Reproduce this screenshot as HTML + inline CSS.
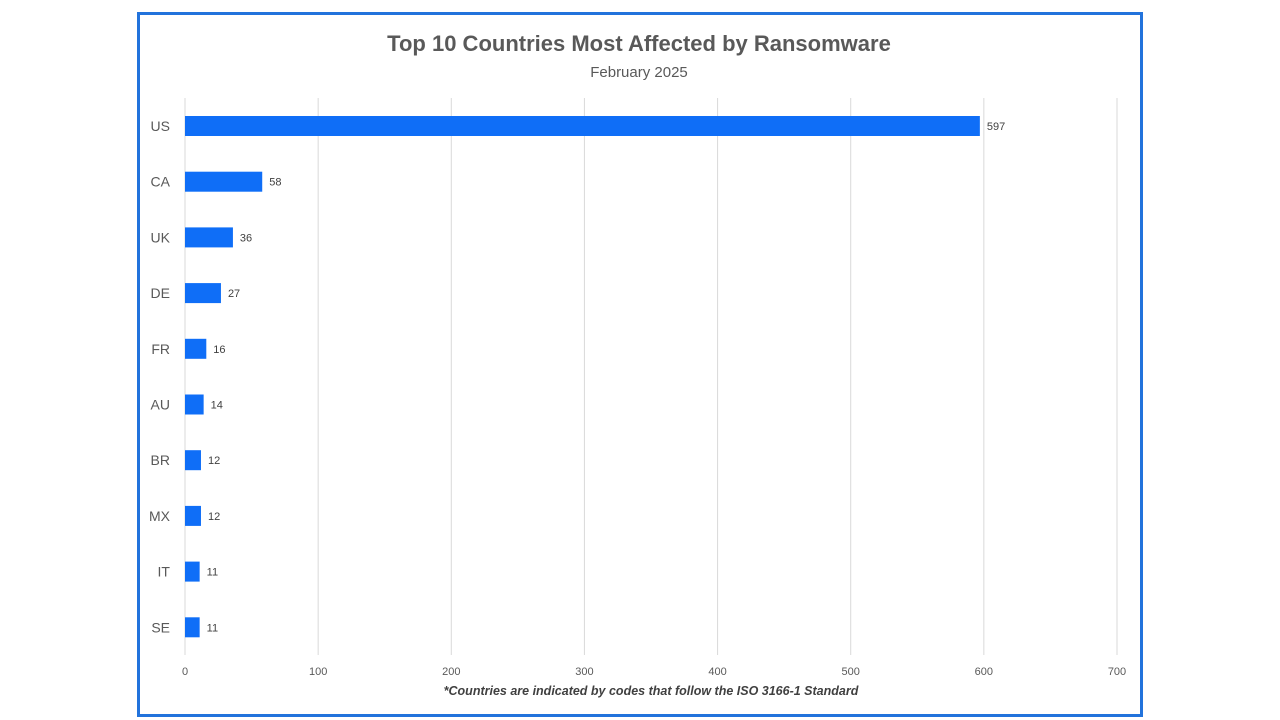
<!DOCTYPE html>
<html><head><meta charset="utf-8"><style>
body{margin:0;width:1280px;height:720px;background:#fff;overflow:hidden;font-family:"Liberation Sans",sans-serif}
#frame{position:absolute;left:137px;top:12px;width:1000px;height:699px;border:3px solid #2273dc}
</style></head><body>
<div id="frame"></div>
<svg id="chart" width="1280" height="720" style="position:absolute;left:0;top:0">
<text x="639" y="51" text-anchor="middle" font-size="22" font-weight="bold" fill="#595959">Top 10 Countries Most Affected by Ransomware</text>
<text x="639" y="77" text-anchor="middle" font-size="15" fill="#595959">February 2025</text>
<text x="651" y="695" text-anchor="middle" font-size="12.5" font-weight="bold" font-style="italic" fill="#404040">*Countries are indicated by codes that follow the ISO 3166-1 Standard</text>
<g id="grid"></g><g id="bars"></g>
</svg>
<script>
const categories=["US","CA","UK","DE","FR","AU","BR","MX","IT","SE"];
const values=[597,58,36,27,16,14,12,12,11,11];
const ticks=[0,100,200,300,400,500,600,700];
const ns="http://www.w3.org/2000/svg";
const x0=185,x1=1117,maxV=700,yTop=98,yBot=655,rowTop=126,rowStep=55.7,barH=20;
const xs=v=>x0+(x1-x0)*v/maxV;
const ys=i=>rowTop+i*rowStep;
function mk(t,a,p){const e=document.createElementNS(ns,t);for(const k in a)e.setAttribute(k,a[k]);p.appendChild(e);return e;}
const grid=document.getElementById('grid'),bars=document.getElementById('bars');
ticks.forEach(t=>{
  const l=mk('line',{x1:xs(t),x2:xs(t),y1:yTop,y2:yBot,stroke:'#d9d9d9','stroke-width':1},grid);
  
  
  const tx=mk('text',{x:xs(t),y:675,'text-anchor':'middle','font-size':11,fill:'#595959'},grid);
  tx.textContent=t;
  
  
});
categories.forEach((c,i)=>{
  const y=ys(i);
  const lb=mk('text',{x:170,y:y+5,'text-anchor':'end','font-size':14,fill:'#595959'},bars);
  lb.textContent=c;
  
  
  const r=mk('rect',{x:x0,y:y-barH/2,width:xs(values[i])-x0,height:barH,fill:'#0f6ef7'},bars);
  
  
  const v=mk('text',{x:xs(values[i])+7,y:y+4,'font-size':11,fill:'#404040'},bars);
  v.textContent=values[i];
  
  
});
</script>
</body></html>
